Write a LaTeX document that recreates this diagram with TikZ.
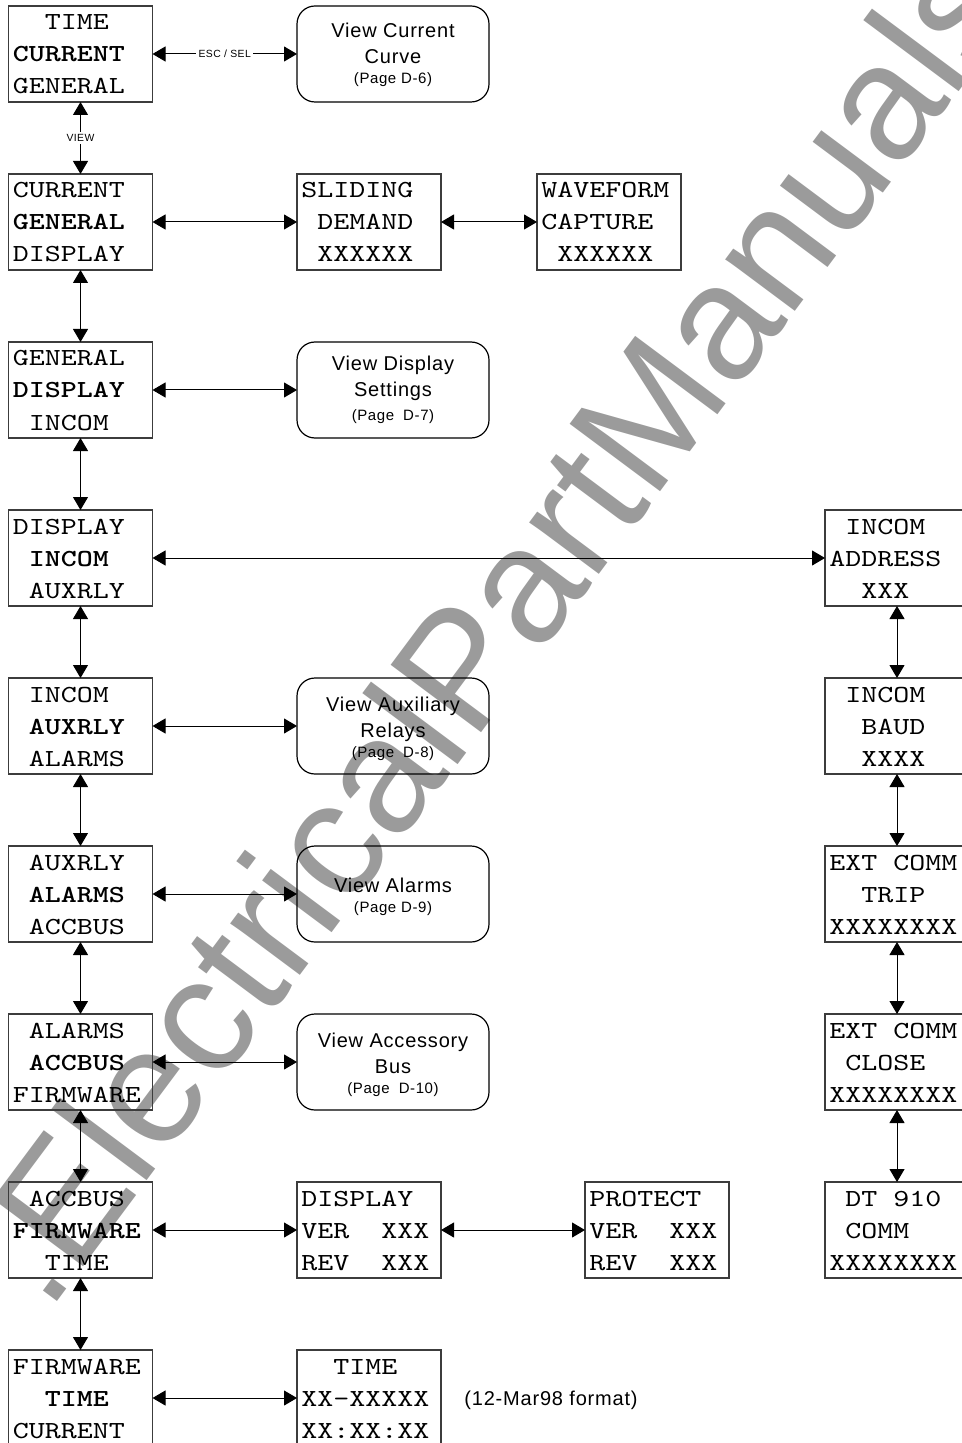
\documentclass[tikz,border=0pt]{standalone}
\usepackage{fontspec}
\setmainfont{Liberation Sans}
\newfontfamily\lcdfont{lmmono10-regular.otf}[FakeStretch=1.244, BoldFont=lmmonolt10-bold.otf]
\newfontfamily\labfont[LetterSpace=4]{Liberation Sans}
\newfontfamily\wmfont{Liberation Sans}
\usetikzlibrary{arrows.meta}
\newdimen\monoadv \monoadv=8pt
\newcommand\ind[1]{\hspace*{#1\monoadv}}
\definecolor{wmgray}{RGB}{155,155,155}
\definecolor{boxline}{RGB}{60,60,60}
\tikzset{
  lcdbox/.style={draw=boxline, line width=0.6pt, rectangle, minimum width=72pt, minimum height=48pt,
    anchor=north west, inner sep=0pt, outer sep=0pt},
  viewbox/.style={draw=black, line width=0.6pt, rectangle, rounded corners=9pt, minimum width=96pt,
    minimum height=48pt, anchor=north west, inner sep=0pt, outer sep=0pt},
  mono/.style={anchor=base west, inner sep=0pt, font=\lcdfont\fontsize{12.25pt}{16pt}\selectfont},
  big/.style={anchor=base, inner sep=0pt, font=\labfont\fontsize{10pt}{12pt}\selectfont},
  small/.style={anchor=base, inner sep=0pt, font=\labfont\fontsize{7.5pt}{9pt}\selectfont},
  tiny/.style={fill=white, inner sep=1.2pt, font=\labfont\fontsize{5.2pt}{6pt}\selectfont},
  arr/.style={line width=0.5pt, {Triangle[length=6.5pt,width=7.5pt]}-{Triangle[length=6.5pt,width=7.5pt]}},
  wm/.style={inner sep=0pt, text=wmgray, font=\wmfont\fontsize{82pt}{82pt}\selectfont}
}
\newcommand\lcdpanel[6]{%
  \node[lcdbox] (#1) at (#2,#3) {};
  \node[mono] (#1-1) at (#2+4,#3+24) {#4};
  \node[mono] (#1-2) at (#2+4,#3+56) {\bfseries #5};
  \node[mono] (#1-3) at (#2+4,#3+88) {#6};
}
\newcommand\plainpanel[6]{%
  \node[lcdbox] (#1) at (#2,#3) {};
  \node[mono] (#1-1) at (#2+4,#3+24) {#4};
  \node[mono] (#1-2) at (#2+4,#3+56) {#5};
  \node[mono] (#1-3) at (#2+4,#3+88) {#6};
}
\begin{document}
\begin{tikzpicture}[x=0.5pt,y=-0.5pt]
\useasboundingbox (0,0) rectangle (962,1443);
\clip (0,0) rectangle (962,1443);
% watermark
\node[wm, rotate=53.3, anchor=base west] (wmark) at (48,1314) {.ElectricalPartManuals};
% left column
\lcdpanel{L0}{8.5}{6}{\ind{2}TIME}{CURRENT}{GENERAL}
\lcdpanel{L1}{8.5}{174}{CURRENT}{GENERAL}{DISPLAY}
\lcdpanel{L2}{8.5}{342}{GENERAL}{DISPLAY}{\ind{1}INCOM}
\lcdpanel{L3}{8.5}{510}{DISPLAY}{\ind{1}INCOM}{\ind{1}AUXRLY}
\lcdpanel{L4}{8.5}{678}{\ind{1}INCOM}{\ind{1}AUXRLY}{\ind{1}ALARMS}
\lcdpanel{L5}{8.5}{846}{\ind{1}AUXRLY}{\ind{1}ALARMS}{\ind{1}ACCBUS}
\lcdpanel{L6}{8.5}{1014}{\ind{1}ALARMS}{\ind{1}ACCBUS}{FIRMWARE}
\lcdpanel{L7}{8.5}{1182}{\ind{1}ACCBUS}{FIRMWARE}{\ind{2}TIME}
\lcdpanel{L8}{8.5}{1350}{FIRMWARE}{\ind{2}TIME}{CURRENT}
% middle value panels
\plainpanel{sd}{297}{174}{SLIDING}{\ind{1}DEMAND}{\ind{1}XXXXXX}
\plainpanel{wf}{537}{174}{WAVEFORM}{CAPTURE}{\ind{1}XXXXXX}
\plainpanel{dv}{297}{1182}{DISPLAY}{VER\ind{2}XXX}{REV\ind{2}XXX}
\plainpanel{pv}{585}{1182}{PROTECT}{VER\ind{2}XXX}{REV\ind{2}XXX}
\plainpanel{tm}{297}{1350}{\ind{2}TIME}{XX-XXXXX}{XX:XX:XX}
% right column
\plainpanel{R0}{825}{510}{\ind{1}INCOM}{ADDRESS}{\ind{2}XXX}
\plainpanel{R1}{825}{678}{\ind{1}INCOM}{\ind{2}BAUD}{\ind{2}XXXX}
\plainpanel{R2}{825}{846}{EXT\ind{1}COMM}{\ind{2}TRIP}{XXXXXXXX}
\plainpanel{R3}{825}{1014}{EXT\ind{1}COMM}{\ind{1}CLOSE}{XXXXXXXX}
\plainpanel{R4}{825}{1182}{\ind{1}DT\ind{1}910}{\ind{1}COMM}{XXXXXXXX}
% rounded view boxes
\node[viewbox] (V0) at (297,6) {};
\node[big] (V0-1) at (393,38) {View Current};
\node[big] (V0-2) at (393,64) {Curve};
\node[small] (V0-3) at (393,84) {(Page D-6)};
\node[viewbox] (V2) at (297,342) {};
\node[big] (V2-1) at (393,371) {View Display};
\node[big] (V2-2) at (393,397) {Settings};
\node[small] (V2-3) at (393,421) {(Page\hspace{0.6em}D-7)};
\node[viewbox] (V4) at (297,678) {};
\node[big] (V4-1) at (393,711) {View Auxiliary};
\node[big] (V4-2) at (393,737) {Relays};
\node[small] (V4-3) at (393,757) {(Page\hspace{0.6em}D-8)};
\node[viewbox] (V5) at (297,846) {};
\node[big] (V5-1) at (393,892) {View Alarms};
\node[small] (V5-2) at (393,912) {(Page D-9)};
\node[viewbox] (V6) at (297,1014) {};
\node[big] (V6-1) at (393,1047) {View Accessory};
\node[big] (V6-2) at (393,1073) {Bus};
\node[small] (V6-3) at (393,1093) {(Page\hspace{0.6em}D-10)};
% note
\node[big, anchor=base] (fmt) at (551,1405) {(12-Mar98 format)};
% connectors
\draw[arr] (L0.east) -- node[tiny] (esc) {ESC / SEL} (V0.west);
\draw[arr] (L0.south) -- node[tiny] (view) {VIEW} (L1.north);
\draw[arr] (L1.east) -- (sd.west);
\draw[arr] (sd.east) -- (wf.west);
\draw[arr] (L1.south) -- (L2.north);
\draw[arr] (L2.east) -- (V2.west);
\draw[arr] (L2.south) -- (L3.north);
\draw[arr] (L3.east) -- (R0.west);
\draw[arr] (L3.south) -- (L4.north);
\draw[arr] (L4.east) -- (V4.west);
\draw[arr] (L4.south) -- (L5.north);
\draw[arr] (L5.east) -- (V5.west);
\draw[arr] (L5.south) -- (L6.north);
\draw[arr] (L6.east) -- (V6.west);
\draw[arr] (L6.south) -- (L7.north);
\draw[arr] (L7.east) -- (dv.west);
\draw[arr] (dv.east) -- (pv.west);
\draw[arr] (L7.south) -- (L8.north);
\draw[arr] (L8.east) -- (tm.west);
\draw[arr] (R0.south) -- (R1.north);
\draw[arr] (R1.south) -- (R2.north);
\draw[arr] (R2.south) -- (R3.north);
\draw[arr] (R3.south) -- (R4.north);
\end{tikzpicture}
\end{document}
